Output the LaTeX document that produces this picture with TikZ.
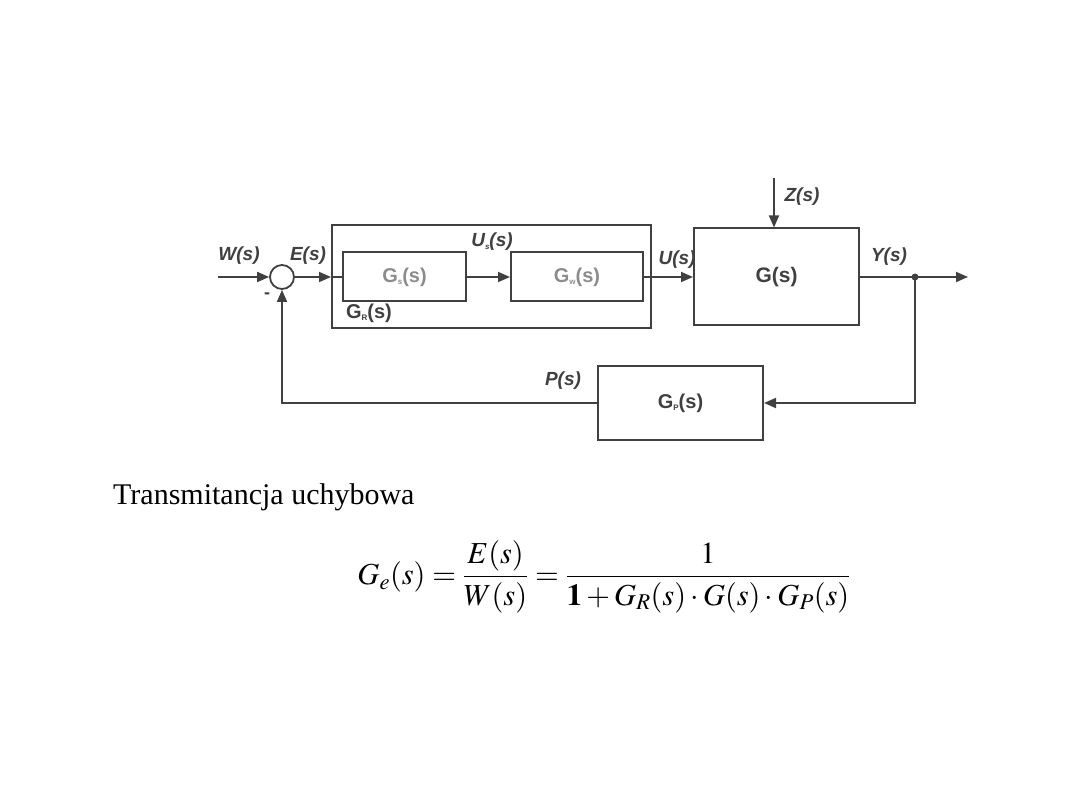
\documentclass[tikz,border=0pt]{standalone}
\usepackage{amsmath}
\usepackage{mathptmx}
\usepackage{fontspec}
\setmainfont{Liberation Serif}
\setsansfont{Liberation Sans}
\usetikzlibrary{arrows.meta}
\definecolor{ln}{HTML}{404040}
\definecolor{lg}{HTML}{8C8C8C}
\newcommand{\sbs}[1]{\raisebox{-2.5pt}{\fontsize{8}{8}\selectfont #1}}
\tikzset{
  blk/.style={draw=ln, line width=2pt, inner sep=0pt},
  lbl/.style={font=\sffamily\bfseries\itshape\fontsize{19}{22}\selectfont, text=ln, inner sep=0pt},
  btxt/.style={font=\sffamily\bfseries\fontsize{21}{24}\selectfont, text=ln, inner sep=0pt},
  wire/.style={draw=ln, line width=1.8pt},
  arr/.style={wire, -{Triangle[length=12pt,width=10pt]}},
}
\begin{document}
\begin{tikzpicture}[x=1pt,y=-1pt]
\useasboundingbox (0,0) rectangle (1080,810);
% blocks
\node[blk, minimum width=319pt, minimum height=103pt] (GR) at (491.5,277) {};
\node[blk, minimum width=123pt, minimum height=49pt, font=\sffamily\bfseries\fontsize{20}{22}\selectfont, text=lg] (Gs) at (404.5,277) {G\sbs{s}(s)};
\node[blk, minimum width=132pt, minimum height=49pt, font=\sffamily\bfseries\fontsize{20}{22}\selectfont, text=lg] (Gw) at (577,277) {G\sbs{w}(s)};
\node[blk, minimum width=165pt, minimum height=97pt, btxt] (G) at (776.5,277) {G(s)};
\node[blk, minimum width=165pt, minimum height=74pt, btxt, font=\sffamily\bfseries\fontsize{20}{22}\selectfont] (Gp) at (680.5,403) {G\sbs{P}(s)};
\node[draw=ln, line width=1.8pt, circle, minimum size=24pt, inner sep=0pt] (sum) at (282,277) {};
% coordinates
\coordinate (win) at (218,277);
\coordinate (zin) at (774,178);
\coordinate (yout) at (968,277);
\coordinate (br) at (915,277);
% connectors
\draw[arr] (win) -- (sum.west);
\draw[arr] (sum.east) -- (GR.west);
\draw[wire] (GR.west) -- (Gs.west);
\draw[arr] (Gs.east) -- (Gw.west);
\draw[arr] (Gw.east) -- (G.west);
\draw[arr] (zin) -- (zin |- G.north);
\draw[arr] (G.east) -- (yout);
\fill[ln] (br) circle (3.5pt);
\draw[arr] (br) |- (Gp.east);
\draw[arr] (Gp.west) -| (sum.south);
% labels
\node[lbl] (lW) at (239,256) {W(s)};
\node[lbl] (lE) at (308,256) {E(s)};
\node[lbl] (lUs) at (492,242) {U\sbs{s}(s)};
\node[btxt, font=\sffamily\bfseries\fontsize{20}{22}\selectfont] (lGR) at (369,313) {G\sbs{R}(s)};
\node[lbl] (lU) at (677,260) {U(s)};
\node[lbl] (lZ) at (802,197) {Z(s)};
\node[lbl] (lY) at (889,257) {Y(s)};
\node[lbl] (lP) at (563,381) {P(s)};
\node[lbl, font=\sffamily\bfseries\fontsize{18}{18}\selectfont] (minus) at (267,296) {-};
% text
\node[anchor=west, inner sep=0pt, font=\fontsize{30}{34}\selectfont] (title) at (113,497) {Transmitancja uchybowa};
\node[inner sep=0pt, font=\fontsize{30.5}{36}\selectfont] (eq) at (604,577)
  {$G_e(s)=\dfrac{E(s)}{W(s)}=\dfrac{1}{\mathbf{1}+G_R(s)\cdot G(s)\cdot G_P(s)}$};
\end{tikzpicture}
\end{document}
